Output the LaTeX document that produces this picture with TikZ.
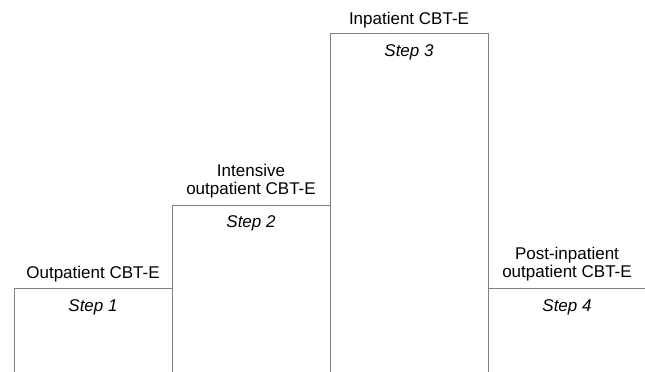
\documentclass[tikz,border=0pt]{standalone}
\usepackage{fontspec}
\setmainfont{Liberation Sans}
\definecolor{linegray}{RGB}{128,128,128}
\begin{document}
\begin{tikzpicture}[x=1pt,y=-1pt,
  outline/.style={draw=linegray,line width=1pt},
  lab/.style={anchor=base,inner sep=0pt,align=center,font=\fontsize{17}{19.5}\selectfont},
  steplab/.style={anchor=base,inner sep=0pt,font=\fontsize{17}{19.5}\selectfont\itshape}]
\useasboundingbox (0,0) rectangle (645,372);
% outline coordinates
\coordinate (a0) at (14,372);
\coordinate (a1) at (14,288);
\coordinate (b1) at (172,288);
\coordinate (b2) at (172,205);
\coordinate (c2) at (330,205);
\coordinate (c3) at (330,33.5);
\coordinate (d3) at (488,33.5);
\coordinate (d4) at (488,288);
\coordinate (e4) at (646,288);
\coordinate (b0) at (172,372);
\coordinate (c0) at (330,372);
\coordinate (d0) at (488,372);
\draw[outline] (a0) -- (a1) -- (b1) -- (b2) -- (c2) -- (c3) -- (d3) -- (d4) -- (e4);
\draw[outline] (b1) -- (b0);
\draw[outline] (c2) -- (c0);
\draw[outline] (d4) -- (d0);
% labels
\node[lab] (t1) at (93,278) {Outpatient CBT-E};
\node[steplab] (s1) at (93,311) {Step 1};
\node[lab] (t2) at (251,194) {Intensive\\[-2pt]outpatient CBT-E};
\node[steplab] (s2) at (251,227) {Step 2};
\node[lab] (t3) at (409,24) {Inpatient CBT-E};
\node[steplab] (s3) at (409,56) {Step 3};
\node[lab] (t4) at (567,277) {Post-inpatient\\[-2pt]outpatient CBT-E};
\node[steplab] (s4) at (567,311) {Step 4};
\end{tikzpicture}
\end{document}
